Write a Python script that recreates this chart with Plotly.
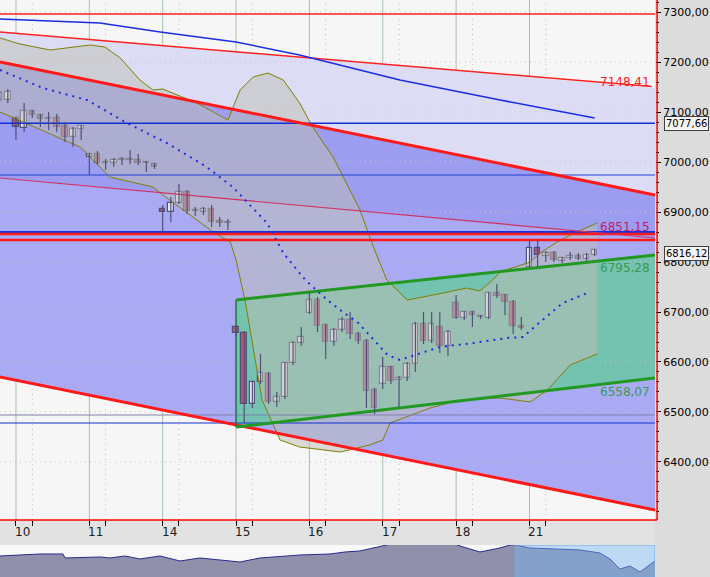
import plotly.graph_objects as go

# ---------------- data ----------------
bar_idx = list(range(-2, 72))
opens  = [7124,7124,7088,7068,7102,7094,7086,7088,7072,7050,7066,
          7010,7016,6998,6998,7004,7004,7004,6998,6996,
          6906,6900,6918,6940,6902,6900,6906,6882,6878,
          6670,6658,6516,6560,6576,6520,6530,6598,6638,
          6698,6724,6674,6640,6664,6684,6656,6642,6544,
          6556,6590,6564,6568,6596,6676,6642,6670,6632,
          6718,6688,6700,6690,6688,6738,6734,6720,6672,
          6790,6828,6812,6818,6802,6808,6812,6806,6814]
highs  = [7142,7146,7090,7118,7104,7096,7100,7096,7080,7070,7074,
          7018,7022,7006,7008,7010,7024,7016,7002,6998,
          6914,6930,6956,6944,6910,6910,6914,6890,6886,
          6674,6662,6562,6616,6580,6540,6600,6642,6670,
          6740,6730,6676,6668,6690,6700,6660,6646,6548,
          6610,6592,6572,6600,6680,6700,6700,6700,6664,
          6734,6702,6702,6694,6740,6756,6736,6724,6690,
          6846,6846,6822,6822,6810,6820,6818,6818,6826]
lows   = [7120,7118,7044,7060,7088,7070,7064,7060,7040,7030,7044,
          6974,6994,6984,6990,6994,6996,6994,6980,6986,
          6860,6880,6916,6896,6892,6894,6870,6870,6864,
          6650,6478,6508,6556,6516,6510,6526,6594,6632,
          6696,6660,6606,6632,6660,6646,6636,6508,6496,
          6546,6556,6510,6562,6580,6636,6638,6618,6612,
          6686,6684,6670,6686,6686,6728,6694,6656,6664,
          6790,6790,6800,6800,6798,6804,6804,6802,6812]
closes = [7138,7140,7070,7102,7094,7086,7086,7070,7050,7066,7072,
          7016,6998,6998,7004,7004,7004,6998,6998,6990,
          6900,6918,6940,6902,6902,6906,6880,6878,6878,
          6658,6516,6560,6578,6520,6530,6598,6638,6650,
          6724,6672,6640,6664,6684,6656,6642,6542,6508,
          6590,6562,6568,6596,6676,6642,6676,6632,6660,
          6688,6700,6694,6690,6738,6732,6720,6672,6668,
          6828,6814,6818,6804,6808,6812,6806,6814,6824]

bb_up_x = [-1.96,0.5,4.2,9.1,10.9,12.8,15.2,16.8,18,19.8,22.2,26,27.5,29.1,30.9,32.8,34.8,36.4,38.9,42.2,44,45.5,48,51.2,55.3,56.9,58.5,59.4,63.1,64.3,66.4,68.8,71.3]
bb_up_y = [7248,7236,7224,7234,7230,7208,7164,7144,7146,7134,7118,7084,7144,7170,7178,7164,7118,7070,7010,6904,6824,6764,6724,6734,6748,6742,6764,6780,6800,6818,6840,6860,6878]
bb_lo_x = [-1.96,7.9,11.5,16.8,17.7,24.2,26.3,27,28.1,30.2,32.4,34.8,39.8,43.4,45,45.9,50.8,54.5,59.4,63.1,65.2,68,71.3]
bb_lo_y = [7100,7030,6970,6950,6938,6860,6840,6804,6724,6524,6444,6430,6420,6434,6444,6478,6508,6524,6528,6520,6544,6594,6616]
ma_dot_x = [-1.96,3.3,8.7,13.6,18.5,23.4,26.6,30.8,32.8,35.5,38.2,40.1,42,43.7,45.6,47.1,49.6,52,56.1,60.2,62.2,64.3,67.1,70.4]
ma_dot_y = [7184,7148,7124,7078,7038,6990,6950,6878,6818,6764,6724,6700,6678,6648,6614,6604,6618,6630,6638,6648,6650,6680,6718,6740]
ma_x = [-1.96,10.3,17.7,27,34.8,47.1,59.4,71]
ma_y = [7286,7278,7260,7240,7214,7164,7124,7088]

day_labels = ["10","11","14","15","16","17","18","21"]
day_start = [0,9,18,27,36,45,54,63]

nav_x = [0,30,40,63,65,100,110,125,140,160,180,200,240,260,300,330,345,360,400,450,460,480,500,510,515,530,560,580,600,610,620,630,640,650,655]
nav_y = [21,22,23,23,19,20,19,21,18,21,16,19,15,19,22,23,25,26,35,35,31,25,29,32,32,29,28,27,24,18,8,11,5,12,16]

X0, X1 = -1.96, 78.4
Y0, Y1 = 6284, 7324
thin_red = (7260, 7148)
chan_top = (7200, 6934)
chan_mid = (6968, 6848)
chan_bot = (6570, 6304)
green_x0 = 27
green_top = (6724, 6814)
green_bot = (6470, 6568)

fig = go.Figure()
shapes = []
def poly(pts, color):
    d = "M " + " L ".join(f"{x},{y}" for x, y in pts) + " Z"
    shapes.append(dict(type="path", path=d, xref="x", yref="y", fillcolor=color, line=dict(width=0), layer="below"))
poly([(X0,thin_red[0]),(X1,thin_red[1]),(X1,chan_top[1]),(X0,chan_top[0])], "#dcdcf4")
poly([(X0,chan_top[0]),(X1,chan_top[1]),(X1,chan_mid[1]),(X0,chan_mid[0])], "#9c9cf0")
poly([(X0,chan_mid[0]),(X1,chan_mid[1]),(X1,chan_bot[1]),(X0,chan_bot[0])], "#aaaaf4")
poly([(green_x0,green_top[0]),(X1,green_top[1]),(X1,green_bot[1]),(green_x0,green_bot[0])], "#74c2b0")

def hline(y, color, w, dash="solid"):
    shapes.append(dict(type="line", xref="x", yref="y", x0=X0, x1=X1, y0=y, y1=y, line=dict(color=color, width=w, dash=dash), layer="below"))
for g in [6400,6500,6600,6700,6800,6900,7000,7100,7200,7300]:
    hline(g, "#c4c4c4", 1, "1px,4px")
for d in day_start:
    shapes.append(dict(type="line", xref="x", yref="paper", x0=d, x1=d, y0=0.0988, y1=1, line=dict(color="#a8c0a8", width=1), layer="below"))
    shapes.append(dict(type="line", xref="x", yref="paper", x0=d+2, x1=d+2, y0=0.0988, y1=1, line=dict(color="#b8b8b8", width=1, dash="1px,4px"), layer="below"))

def seg(xs, ys, color, w, dash="solid"):
    fig.add_trace(go.Scatter(x=xs, y=ys, mode="lines", line=dict(color=color, width=w, dash=dash), hoverinfo="skip", showlegend=False))

# bollinger fill
fig.add_trace(go.Scatter(x=bb_up_x + bb_lo_x[::-1], y=bb_up_y + bb_lo_y[::-1], mode="none", fill="toself",
                         fillcolor="rgba(190,190,180,0.5)", showlegend=False, hoverinfo="skip"))
seg(bb_up_x, bb_up_y, "#808000", 1)
seg(bb_lo_x, bb_lo_y, "#808000", 1)

seg([X0,X1],[7296,7296],"#ff2020",1.5)
seg([X0,78],[thin_red[0],thin_red[1]+3],"#ff2020",1.5)
seg([X0,X1],[7077.66,7077.66],"#1030d0",1.5)
seg([X0,X1],[6974,6974],"#2040d0",1.2)
seg([X0,X1],[6860,6860],"#1030e0",2)
seg([X0,X1],[6856,6856],"#ff1a1a",2.5)
seg([X0,X1],[6844,6844],"#ff1a1a",2.5)
seg([X0,X1],[6494,6494],"#8080b0",1)
seg([X0,X1],[6478,6478],"#1030d0",1.2)
seg([X0,X1],list(chan_mid),"#d03060",1.2)
seg([X0,X1],list(chan_top),"#ff1a1a",3)
seg([X0,X1],list(chan_bot),"#ff1a1a",3)
seg([green_x0,X1],list(green_top),"#229922",3)
seg([green_x0,X1],list(green_bot),"#229922",3)
seg([green_x0,green_x0],[green_bot[0],green_top[0]],"#1a7a3a",1.5)
seg(ma_x, ma_y, "#1a2ee0", 1.5)
seg(ma_dot_x, ma_dot_y, "#1a2ee0", 2, "2px,5px")

# candles: wicks + bodies
wx, wy = [], []
for i, h, l in zip(bar_idx, highs, lows):
    wx += [i, i, None]; wy += [h, l, None]
fig.add_trace(go.Scatter(x=wx, y=wy, mode="lines", line=dict(color="#505078", width=1.2), showlegend=False, hoverinfo="skip"))
base = [min(o, c) for o, c in zip(opens, closes)]
hgt = [max(abs(c - o), 2) for o, c in zip(opens, closes)]
cols = ["#e8e8f4" if c >= o else "#b05878" for o, c in zip(opens, closes)]
fig.add_trace(go.Bar(x=bar_idx, y=hgt, base=base, width=0.68, marker=dict(color=cols, line=dict(color="#505078", width=1.2)),
                     showlegend=False, hoverinfo="skip"))

# navigator
fig.add_trace(go.Scatter(x=nav_x, y=nav_y, xaxis="x2", yaxis="y2", mode="lines", line=dict(color="#2a2a90", width=1),
    fill="tozeroy", fillcolor="#9090aa", showlegend=False, hoverinfo="skip"))

ann = []
for labt, d in zip(day_labels, day_start):
    ann.append(dict(x=d+0.8, y=0.078, xref="x", yref="paper", text=labt, showarrow=False, font=dict(size=12, color="#202020", family="DejaVu Sans"), yanchor="middle"))
def lab(x, y, t, c):
    ann.append(dict(x=x, y=y, xref="x", yref="y", text=t, showarrow=False, font=dict(size=12, color=c, family="DejaVu Sans"), xanchor="left", yanchor="middle"))
lab(71.4, 7160, "7148,41", "#ff2020")
lab(71.4, 6870, "6851,15", "#c02068")
lab(71.4, 6788, "6795,28", "#3a9a50")
lab(71.4, 6540, "6558,07", "#3a9a50")
for v, t in [(7077.66, "7077,66"), (6816.12, "6816,12")]:
    ann.append(dict(x=0.935, y=v, xref="paper", yref="y", text=t, showarrow=False, xanchor="left", yanchor="middle",
        font=dict(size=10, color="#000", family="DejaVu Sans"), bgcolor="#f4f4f4", bordercolor="#404040", borderwidth=1, borderpad=1))

shapes += [
    dict(type="rect", xref="paper", yref="paper", x0=0.9225, x1=1, y0=0, y1=1, fillcolor="#dcdcdc", line=dict(width=0), layer="below"),
    dict(type="rect", xref="paper", yref="paper", x0=0, x1=0.9225, y0=0.0555, y1=0.0988, fillcolor="#e2e2e2", line=dict(width=0), layer="below"),
    dict(type="rect", xref="paper", yref="paper", x0=0, x1=0.9225, y0=0, y1=0.0555, fillcolor="#f8f8f8", line=dict(width=0), layer="below"),
    dict(type="line", xref="paper", yref="paper", x0=0.9255, x1=0.9255, y0=0.0988, y1=1, line=dict(color="#ff0000", width=1.5)),
    dict(type="line", xref="paper", yref="paper", x0=0, x1=0.9255, y0=0.0988, y1=0.0988, line=dict(color="#ff0000", width=1.5)),
    dict(type="rect", xref="x2", yref="y2", x0=515, x1=655, y0=0, y1=32, fillcolor="rgba(120,180,240,0.45)", line=dict(color="#70a8e0", width=1)),
]
fig.update_layout(shapes=shapes, annotations=ann)

tv = [6400,6500,6600,6700,6800,6900,7000,7100,7200,7300]
fig.update_layout(
    width=710, height=577, margin=dict(l=0, r=0, t=0, b=0, autoexpand=False), bargap=0,
    paper_bgcolor="#e4e4e4", plot_bgcolor="#f6f6f6",
    xaxis=dict(domain=[0, 0.9225], range=[X0, X1], showgrid=False, zeroline=False,
               tickvals=day_start + [d+2 for d in day_start], ticktext=[""]*16, ticks="outside", ticklen=5, tickcolor="#000"),
    yaxis=dict(domain=[0.0988, 1], range=[Y0, Y1], side="right", showgrid=False, zeroline=False,
               tickvals=tv, ticktext=[f"{v},00" for v in tv], ticks="outside", ticklen=5, tickcolor="#000",
               tickfont=dict(size=11, family="DejaVu Sans", color="#000"),
               minor=dict(dtick=20, ticks="outside", ticklen=3, tickcolor="#000")),
    xaxis2=dict(domain=[0, 0.9225], range=[0, 655], visible=False, anchor="y2"),
    yaxis2=dict(domain=[0, 0.0555], range=[0, 32], visible=False, anchor="x2"),
)
fig.write_html("out.html", config={"displayModeBar": False},
               post_script="document.body.style.margin='0';document.body.style.overflow='hidden';")
